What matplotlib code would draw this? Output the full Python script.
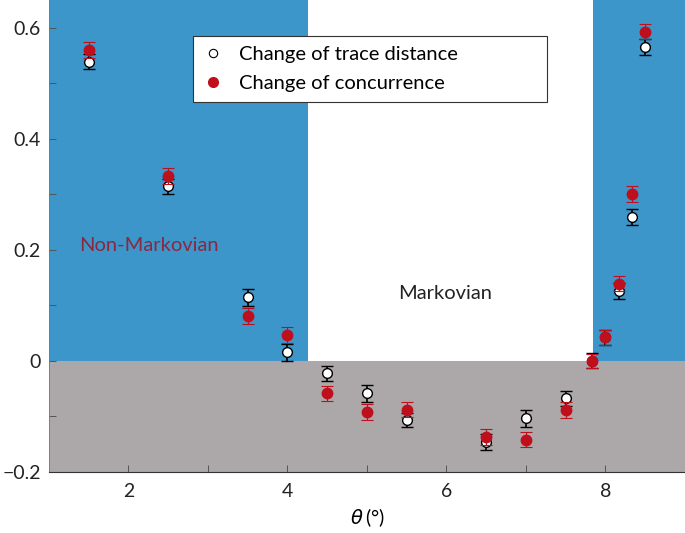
import numpy as np
import matplotlib.pyplot as plt

plt.rcParams['font.family'] = ['Lato', 'DejaVu Sans']

theta = [1.5, 2.5, 3.5, 4.0, 4.5, 5.0, 5.5, 6.5, 7.0, 7.5, 7.83, 8.0, 8.17, 8.33, 8.5]
trace = [0.539, 0.314, 0.114, 0.015, -0.023, -0.059, -0.107, -0.146, -0.104, -0.068,
         0.0, 0.042, 0.126, 0.259, 0.565]
trace_err = [0.014, 0.014, 0.015, 0.015, 0.014, 0.015, 0.013, 0.014, 0.015, 0.014,
             0.014, 0.014, 0.014, 0.015, 0.014]
conc = [0.560, 0.333, 0.081, 0.046, -0.059, -0.092, -0.088, -0.137, -0.142, -0.089,
        0.0, 0.042, 0.139, 0.300, 0.593]
conc_err = [0.014, 0.015, 0.014, 0.014, 0.013, 0.014, 0.014, 0.014, 0.014, 0.014,
            0.013, 0.014, 0.014, 0.014, 0.014]

blue = '#3d96c9'
grey = '#aca7a8'
red = '#bf0f1c'

fig = plt.figure(figsize=(6.85, 5.33), dpi=100)
ax = fig.add_axes([0.0715, 0.115, 0.9285, 0.885])

xmin, xmax = 1, 9
ymin, ymax = -0.2, 0.65
ax.axhspan(ymin, 0, color=grey, zorder=0, lw=0)
ax.fill_between([xmin, 4.26], 0, ymax, color=blue, lw=0, zorder=0)
ax.fill_between([7.84, xmax], 0, ymax, color=blue, lw=0, zorder=0)

ax.errorbar(theta, trace, yerr=trace_err, fmt='o', ms=7, mfc='white', mec='black',
            mew=1.0, ecolor='black', elinewidth=1.2, capsize=4, capthick=1.6, zorder=3)
ax.errorbar(theta, conc, yerr=conc_err, fmt='o', ms=7.5, mfc=red, mec=red,
            ecolor=red, elinewidth=0.8, capsize=4, capthick=0.8, zorder=4)

# legend handles
ax.plot([], [], 'o', ms=6, mfc='white', mec='black', mew=0.8, label='Change of trace distance')
ax.plot([], [], 'o', ms=7, mfc=red, mec=red, label='Change of concurrence')
h, l = ax.get_legend_handles_labels()
leg = ax.legend(h[-2:], l[-2:], loc='upper left', bbox_to_anchor=(0.226, 0.788, 0.557, 0.136),
                mode='expand', fontsize=14.5, frameon=True, fancybox=False,
                edgecolor='#333333', framealpha=1, handletextpad=0.8, handlelength=1.0,
                borderpad=0.5, labelspacing=0.6, borderaxespad=0)
leg.get_frame().set_linewidth(0.8)

ax.text(1.38, 0.208, 'Non-Markovian', color='#8a2840', fontsize=14.5, va='center')
ax.text(5.98, 0.122, 'Markovian', color='#222222', fontsize=14.5, va='center', ha='center')

ax.set_xlim(xmin, xmax)
ax.set_ylim(ymin, ymax)
ax.set_xticks([2, 4, 6, 8])
ax.set_xticks([3, 5, 7], minor=True)
ax.set_yticks([-0.2, 0, 0.2, 0.4, 0.6])
ax.set_yticks([-0.1, 0.1, 0.3, 0.5], minor=True)
ax.set_yticklabels(['\u22120.2', '0', '0.2', '0.4', '0.6'])
ax.tick_params(axis='both', which='both', direction='in', length=5, width=0.7,
               colors='#555555', labelsize=14, labelcolor='#222222')
ax.tick_params(axis='x', pad=8)
ax.tick_params(axis='y', pad=6)
for s in ['top', 'right']:
    ax.spines[s].set_visible(False)
ax.spines['bottom'].set_color('#333333')
ax.spines['bottom'].set_linewidth(0.8)
ax.spines['left'].set_color('#777777')
ax.spines['left'].set_linewidth(0.6)
ax.set_xlabel(r'$\theta\,$(°)', fontsize=14, labelpad=5)

fig.savefig('out.png', dpi=100)
